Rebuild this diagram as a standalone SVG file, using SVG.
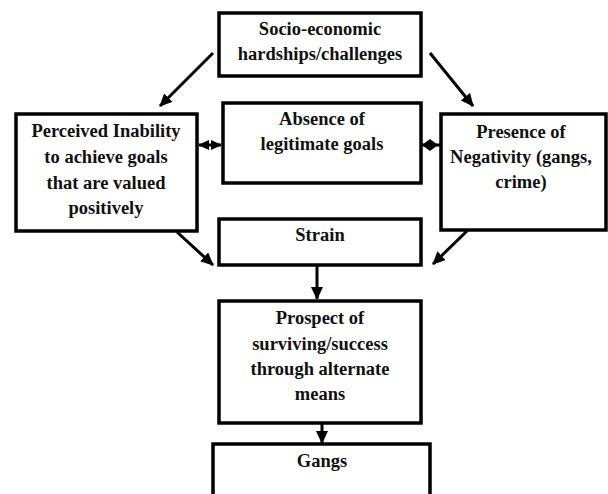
<svg xmlns="http://www.w3.org/2000/svg" width="608" height="494" viewBox="0 0 608 494">
<style>
.box{fill:#fff;stroke:#000;stroke-width:3.5}
.t{font-family:"Liberation Serif","Times New Roman",serif;font-weight:bold;font-size:18.5px;text-anchor:middle;fill:#111}
.c{stroke:#000;stroke-width:3;fill:none}
</style>
<defs>
<marker id="ah" markerUnits="userSpaceOnUse" markerWidth="14" markerHeight="14" refX="12" refY="6" orient="auto">
<path d="M0,0 L13,6 L0,12 z" fill="#000"/>
</marker>
<marker id="ahs" markerUnits="userSpaceOnUse" markerWidth="12" markerHeight="10" refX="10" refY="5" orient="auto-start-reverse">
<path d="M0,0 L11,5 L0,10 z" fill="#000"/>
</marker>
</defs>
<g id="connectors">
<line class="c" x1="213" y1="53" x2="160" y2="106" marker-end="url(#ah)"/>
<line class="c" x1="430" y1="53" x2="473" y2="106" marker-end="url(#ah)"/>
<line class="c" x1="199" y1="145" x2="221" y2="145" marker-start="url(#ahs)" marker-end="url(#ahs)"/>
<line class="c" x1="422" y1="145" x2="440" y2="145"/>
<polygon points="422,145 430,139 438,145 430,151" fill="#000"/>
<line class="c" x1="177" y1="232" x2="213" y2="265" marker-end="url(#ah)"/>
<line class="c" x1="467" y1="231" x2="433" y2="264" marker-end="url(#ah)"/>
<line class="c" x1="317" y1="265" x2="317" y2="299" marker-end="url(#ah)"/>
<line class="c" x1="322" y1="423" x2="322" y2="443" marker-end="url(#ah)"/>
</g>
<g id="socio">
<rect class="box" x="219" y="13" width="202" height="63"/>
<text class="t" x="320" y="35">Socio-economic</text>
<text class="t" x="320" y="60">hardships/challenges</text>
</g>
<g id="absence">
<rect class="box" x="223" y="103" width="198" height="80"/>
<text class="t" x="322" y="125">Absence of</text>
<text class="t" x="322" y="150">legitimate goals</text>
</g>
<g id="perceived">
<rect class="box" x="16" y="114" width="181" height="117"/>
<text class="t" x="106" y="137">Perceived Inability</text>
<text class="t" x="106" y="163">to achieve goals</text>
<text class="t" x="106" y="189">that are valued</text>
<text class="t" x="106" y="214">positively</text>
</g>
<g id="presence">
<rect class="box" x="441" y="114" width="165" height="116"/>
<text class="t" x="521" y="138">Presence of</text>
<text class="t" x="521" y="163">Negativity (gangs,</text>
<text class="t" x="521" y="188">crime)</text>
</g>
<g id="strain">
<rect class="box" x="219" y="219" width="202" height="46"/>
<text class="t" x="320" y="241">Strain</text>
</g>
<g id="prospect">
<rect class="box" x="219" y="301" width="202" height="122"/>
<text class="t" x="320" y="324">Prospect of</text>
<text class="t" x="320" y="350">surviving/success</text>
<text class="t" x="320" y="375">through alternate</text>
<text class="t" x="320" y="400">means</text>
</g>
<g id="gangs">
<rect class="box" x="213" y="444" width="217" height="60"/>
<text class="t" x="322" y="467">Gangs</text>
</g>
</svg>
